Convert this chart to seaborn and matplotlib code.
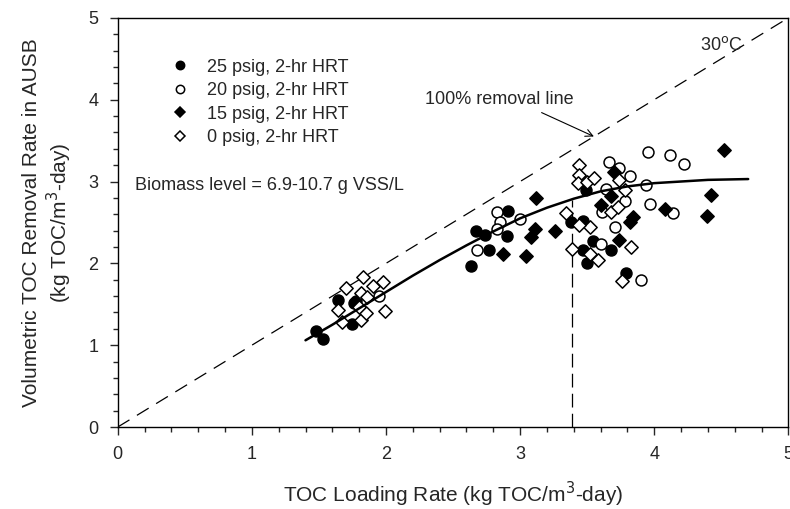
import numpy as np
import pandas as pd
import seaborn as sns
import matplotlib.pyplot as plt
from matplotlib.lines import Line2D
from matplotlib.ticker import MultipleLocator

# -----------------------------------
# Data
# -----------------------------------

# 25 psig, 2-hr HRT (filled circles)
x25 = [1.48, 1.53, 1.64, 1.76, 1.78, 1.75, 2.67, 2.74, 2.91, 2.90, 2.77, 2.63,
       3.38, 3.47, 3.47, 3.54, 3.50, 3.68, 3.79, 3.49]
y25 = [1.17, 1.07, 1.55, 1.52, 1.54, 1.26, 2.39, 2.35, 2.64, 2.33, 2.16, 1.97,
       2.51, 2.52, 2.16, 2.27, 2.01, 2.16, 1.88, 2.90]

# 20 psig, 2-hr HRT (open circles)
x20 = [1.95, 2.83, 2.85, 2.83, 3.00, 2.68, 3.66, 3.95, 4.12, 4.22, 3.74, 3.82,
       3.94, 3.97, 4.14, 3.78, 3.61, 3.71, 3.60, 3.90, 3.64]
y20 = [1.60, 2.63, 2.51, 2.42, 2.54, 2.16, 3.24, 3.36, 3.32, 3.22, 3.16, 3.07,
       2.96, 2.73, 2.61, 2.76, 2.63, 2.44, 2.24, 1.80, 2.91]

# 15 psig, 2-hr HRT (filled diamonds)
x15 = [3.12, 3.11, 3.08, 3.26, 2.87, 3.04, 4.52, 4.42, 4.39, 4.08, 3.84, 3.82,
       3.74, 3.70, 3.68, 3.60]
y15 = [2.80, 2.42, 2.32, 2.39, 2.11, 2.09, 3.38, 2.84, 2.58, 2.66, 2.57, 2.50,
       2.29, 3.12, 2.82, 2.71]

# 0 psig, 2-hr HRT (open diamonds)
x0 = [1.70, 1.83, 1.90, 1.98, 1.81, 1.86, 1.64, 1.67, 1.81, 1.85, 1.99, 1.80,
      3.34, 3.44, 3.44, 3.43, 3.50, 3.39, 3.52, 3.58, 3.55, 3.44, 3.52, 3.83,
      3.76, 3.68, 3.74, 3.78, 3.73]
y0 = [1.70, 1.83, 1.72, 1.77, 1.64, 1.59, 1.43, 1.28, 1.31, 1.39, 1.42, 1.47,
      2.61, 3.20, 3.08, 2.98, 3.00, 2.18, 2.45, 2.04, 3.04, 2.47, 2.12, 2.20,
      1.79, 2.63, 3.02, 2.90, 2.69]

# fitted curve
curve_x = [1.40, 1.60, 1.80, 2.00, 2.20, 2.40, 2.60, 2.80, 3.00, 3.20, 3.40,
           3.60, 3.80, 4.00, 4.20, 4.40, 4.70]
curve_y = [1.06, 1.25, 1.45, 1.65, 1.85, 2.04, 2.22, 2.39, 2.55, 2.68, 2.79,
           2.88, 2.94, 2.98, 3.00, 3.02, 3.03]

# 100% removal line and vertical marker
diag = [0, 5]
vline_x = 3.39
vline_top = 2.78

groups = [
    ("25 psig, 2-hr HRT", x25, y25, "o", "black"),
    ("20 psig, 2-hr HRT", x20, y20, "o", "white"),
    ("15 psig, 2-hr HRT", x15, y15, "D", "black"),
    ("0 psig, 2-hr HRT", x0, y0, "D", "white"),
]

# -----------------------------------
# Plot
# -----------------------------------

sns.set_style("white")
plt.rcParams['font.family'] = ['Liberation Sans', 'DejaVu Sans']

fig = plt.figure(figsize=(7.9, 5.09), dpi=100)
ax = fig.add_axes([0.149, 0.161, 0.849, 0.804])

ax.plot(diag, diag, color="black", lw=0.9, dashes=(11, 7))
ax.plot([vline_x, vline_x], [0, vline_top], color="black", lw=0.9, dashes=(11, 5))

handles = []
for label, xs, ys, mk, fc in groups:
    df = pd.DataFrame({"x": xs, "y": ys})
    size = 62 if mk == "o" else 46
    sns.scatterplot(data=df, x="x", y="y", marker=mk, s=size, color=fc,
                    edgecolor="black", linewidth=1.1, ax=ax, zorder=3)
    handles.append(Line2D([], [], ls="none", marker=mk, markersize=6 if mk == "o" else 5,
                          markerfacecolor=fc, markeredgecolor="black",
                          markeredgewidth=1.1, label=label))

sns.lineplot(x=curve_x, y=curve_y, color="black", lw=1.8, ax=ax, zorder=4)

ax.legend(handles=handles, loc="upper left", bbox_to_anchor=(0.055, 0.94),
          frameon=False, fontsize=13, handletextpad=1.0, labelspacing=0.36,
          handlelength=1.0)

ax.text(0.13, 2.95, "Biomass level = 6.9-10.7 g VSS/L", fontsize=13, va="center")
ax.text(4.5, 4.67, "30$^{\\mathrm{o}}$C", fontsize=13, ha="center", va="center")
ax.annotate("100% removal line", xy=(3.55, 3.55), xytext=(2.29, 4.0),
            fontsize=13, va="center",
            arrowprops=dict(arrowstyle="->", color="black", lw=0.8,
                            shrinkA=2, shrinkB=0, relpos=(0.72, 0.0)))

ax.set_xlim(0, 5)
ax.set_ylim(0, 5)
ax.xaxis.set_major_locator(MultipleLocator(1))
ax.yaxis.set_major_locator(MultipleLocator(1))
ax.xaxis.set_minor_locator(MultipleLocator(0.2))
ax.yaxis.set_minor_locator(MultipleLocator(0.2))
ax.tick_params(which="major", direction="out", length=6, width=1, labelsize=13,
               bottom=True, left=True, pad=8)
ax.tick_params(which="minor", direction="out", length=3.5, width=1,
               bottom=True, left=True)

for sp in ax.spines.values():
    sp.set_color("black")
    sp.set_linewidth(1)

ax.set_xlabel("TOC Loading Rate (kg TOC/m$^3$-day)", fontsize=15, labelpad=12)
ax.set_ylabel("Volumetric TOC Removal Rate in AUSB\n(kg TOC/m$^3$-day)",
              fontsize=15, labelpad=10)

fig.savefig("out.png", dpi=100)
